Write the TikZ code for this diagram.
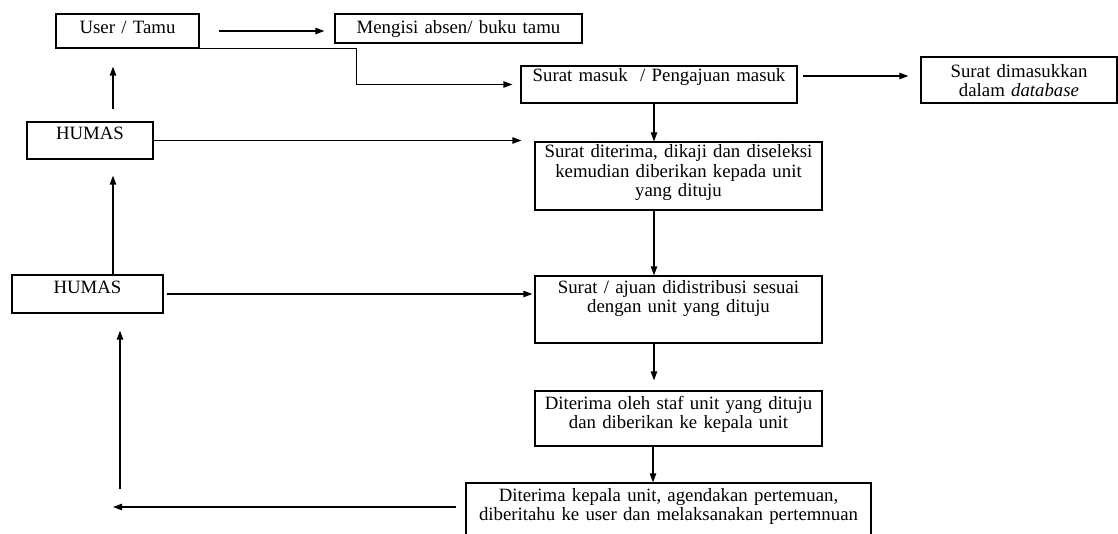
\documentclass[tikz,border=0pt]{standalone}
\usepackage{fontspec}
\setmainfont{Liberation Serif}
\usetikzlibrary{arrows.meta}

\begin{document}
\begin{tikzpicture}[x=0.5pt, y=-0.5pt, line width=0.6pt,
  flow node/.style={draw, align=center, inner sep=0pt, text height=9pt, font=\fontsize{9.4}{9.8}\selectfont},
  flow arrow/.style={-{Triangle[length=4.5pt, width=3.2pt]}}]

	\fill[white] (0,0) rectangle (1118,534);
	\clip (0,0) rectangle (1118,534);

	\node[flow node, text width=71.5pt, text height=10pt, text depth=7pt] at (127.5, 31) (user) {User / Tamu};
	\node[flow node, text width=123.5pt, text height=10pt, text depth=4.5pt] at (458.5, 28.5) (absen) {Mengisi absen/ buku tamu};
	\node[flow node, text width=138pt, text height=8pt, text depth=10.5pt] at (659, 84.5) (masuk) {Surat masuk\ \ / Pengajuan masuk};
	\node[flow node, text width=98pt, text height=10.2pt, text depth=12.8pt] at (1019, 80) (db) {Surat dimasukkan\\ dalam \textit{database}};
	\node[flow node, text width=63pt, text height=9pt, text depth=9.5pt] at (90, 140.5) (humas1) {HUMAS};
	\node[flow node, text width=75.5pt, text depth=10pt] at (87.5, 294) (humas2) {HUMAS};
	\node[flow node, text width=143.5pt, text height=7.8pt, text depth=26.2pt] at (678.5, 176) (seleksi) {Surat diterima, dikaji dan diseleksi\\ kemudian diberikan kepada unit\\ yang dituju};
	\node[flow node, text width=143.5pt, text height=8.5pt, text depth=25pt] at (678.5, 309.5) (distribusi) {Surat / ajuan didistribusi sesuai\\ dengan unit yang dituju};
	\node[flow node, text width=143.5pt, text depth=18.5pt] at (678.5, 418.5) (staf) {Diterima oleh staf unit yang dituju\\ dan diberikan ke kepala unit};
	\node[flow node, text width=202.5pt, text depth=26pt] at (668.5, 518) (kepala) {Diterima kepala unit, agendakan pertemuan,\\ diberitahu ke user dan melaksanakan pertemnuan};

	\coordinate (retL) at (113, 507);
	\coordinate (retU) at (120, 489);

	\draw[flow arrow, shorten <=9.5pt, shorten >=5pt] (user.east) -- (user.east -| absen.west);
	\draw[flow arrow, shorten >=4pt] (user.south east) -- ++(157,0) |- (masuk.west);
	\draw[flow arrow, shorten <=2.5pt, shorten >=6pt] ([yshift=4.25pt]masuk.east) -- ([yshift=4.25pt]masuk.east -| db.west);
	\draw[flow arrow] ([xshift=-2.5pt]masuk.south) -- ([xshift=-2.5pt]masuk.south |- seleksi.north);
	\draw[flow arrow, shorten >=6.5pt] (humas1.east) -- (humas1.east -| seleksi.west);
	\draw[flow arrow, shorten <=6pt, shorten >=9pt] ([xshift=11.5pt]humas1.north) -- ([xshift=11.5pt]humas1.north |- user.south);
	\draw[flow arrow, shorten >=8pt] ([xshift=12.75pt]humas2.north) -- ([xshift=12.75pt]humas2.north |- humas1.south);
	\draw[flow arrow, shorten <=1.5pt, shorten >=1pt] (humas2.east) -- (humas2.east -| distribusi.west);
	\draw[flow arrow] ([xshift=-12.25pt]seleksi.south) -- ([xshift=-12.25pt]seleksi.south |- distribusi.north);
	\draw[flow arrow, shorten >=5pt] ([xshift=-12.25pt]distribusi.south) -- ([xshift=-12.25pt]distribusi.south |- staf.north);
	\draw[flow arrow] ([xshift=-12.75pt]staf.south) -- ([xshift=-12.75pt]staf.south |- kepala.north);
	\draw[flow arrow, shorten <=4.5pt] ([yshift=5.5pt]kepala.west) -- (retL);
	\draw[flow arrow, shorten >=8.5pt] (retU) -- (retU |- humas2.south);
\end{tikzpicture}
\end{document}
